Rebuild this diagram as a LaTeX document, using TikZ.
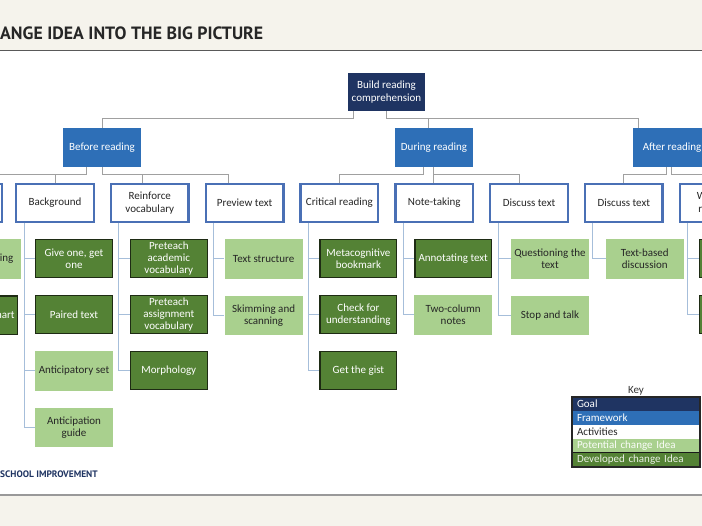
\documentclass[tikz,border=0pt]{standalone}
\usepackage{fontspec}
\setmainfont{Carlito}
\newfontfamily\headfont{PT Sans}
\usepackage{xcolor}
\usetikzlibrary{positioning}

\definecolor{goalblue}{HTML}{1F3462}
\definecolor{frameblue}{HTML}{2E6FB7}
\definecolor{actblue}{HTML}{4A70B5}
\definecolor{potgreen}{HTML}{A9D08E}
\definecolor{devgreen}{HTML}{548235}
\definecolor{devedge}{HTML}{1E2B14}
\definecolor{paper}{HTML}{F5F3EC}
\definecolor{busgray}{HTML}{A0A0A0}
\definecolor{leafline}{HTML}{A6BEDA}

\begin{document}
\begin{tikzpicture}[
  x=1pt, y=-1pt,
  node distance=16.5pt and 14.8pt,
  cell/.style={rectangle, align=center, inner sep=2pt, font=\fontsize{11}{12.3}\selectfont},
  goalbox/.style={cell, fill=goalblue, text=white, minimum width=77pt, minimum height=38pt},
  framebox/.style={cell, fill=frameblue, text=white, minimum width=78pt, minimum height=39pt},
  actbox/.style={cell, draw=actblue, line width=2.4pt, fill=white, text=black!85, minimum width=77.6pt, minimum height=37.6pt},
  potbox/.style={cell, fill=potgreen, text=black!85, minimum width=78pt, minimum height=39.5pt},
  devbox/.style={cell, fill=devgreen, draw=devedge, line width=1.3pt, text=white, minimum width=76.7pt, minimum height=38.2pt},
  bus/.style={busgray, line width=1pt},
  leaf/.style={leafline, line width=1pt},
  keyrow/.style={rectangle, outer sep=0pt, inner xsep=5pt, inner ysep=0pt, minimum height=14pt, text width=118pt, align=left, font=\fontsize{11}{12}\selectfont}
]
\useasboundingbox (0,0) rectangle (702,526);
\clip (0,0) rectangle (702,526);

% page bands
\fill[paper] (0,0) rectangle (702,51);
\draw[black!65, line width=1pt] (0,51) -- (702,51);
\fill[paper] (0,495) rectangle (702,526);
\draw[black!40, line width=1.5pt] (0,495) -- (702,495);

\node[anchor=base west, inner sep=0pt, font=\headfont\bfseries\fontsize{17.8}{20}\selectfont, text=black!85] (title) at (0,40) {ANGE IDEA INTO THE BIG PICTURE};
\node[anchor=base west, inner sep=0pt, font=\headfont\bfseries\fontsize{9.4}{10}\selectfont, text=goalblue] (brand) at (0,478) {SCHOOL IMPROVEMENT};

% goal and frameworks
\node[goalbox] (goal) at (386.5,92) {Build reading\\comprehension};
\node[framebox] (before) at (102,147.5) {Before reading};
\node[framebox] (during) at (434,147.5) {During reading};
\node[framebox] (after) at (672,147.5) {After reading};

% activities
\node[actbox] (backgr) at (55,203) {Background};
\node[actbox, left=12pt of backgr] (prior) {};
\node[actbox, right=of backgr] (vocab) {Reinforce\\vocabulary};
\node[actbox, right=of vocab] (preview) {Preview text};
\node[actbox, right=of preview] (critical) {Critical reading};
\node[actbox, right=of critical] (notes) {Note-taking};
\node[actbox, right=of notes] (discuss) {Discuss text};
\node[actbox, right=of discuss] (discussb) {Discuss text};
\node[actbox, right=of discussb] (respond) {Writing in\\response};

% change ideas
\node[potbox, below=16pt of prior, xshift=19pt] (prior1) {Brainstorming};
\node[devbox, below=of prior1, xshift=-3pt] (prior2) {Prediction chart};

\node[devbox, below=16pt of backgr, xshift=19pt] (backgr1) {Give one, get\\one};
\node[devbox, below=of backgr1] (backgr2) {Paired text};
\node[potbox, below=of backgr2] (backgr3) {Anticipatory set};
\node[potbox, below=of backgr3] (backgr4) {Anticipation\\guide};

\node[devbox, below=16pt of vocab, xshift=19pt] (vocab1) {Preteach\\academic\\vocabulary};
\node[devbox, below=of vocab1] (vocab2) {Preteach\\assignment\\vocabulary};
\node[devbox, below=of vocab2] (vocab3) {Morphology};

\node[potbox, below=16pt of preview, xshift=19pt] (preview1) {Text structure};
\node[potbox, below=of preview1] (preview2) {Skimming and\\scanning};

\node[devbox, below=16pt of critical, xshift=19pt] (critical1) {Metacognitive\\bookmark};
\node[devbox, below=of critical1] (critical2) {Check for\\understanding};
\node[devbox, below=of critical2] (critical3) {Get the gist};

\node[devbox, below=16pt of notes, xshift=19pt] (notes1) {Annotating text};
\node[potbox, below=of notes1] (notes2) {Two-column\\notes};

\node[potbox, below=16pt of discuss, xshift=21pt] (discuss1) {Questioning the\\text};
\node[potbox, below=of discuss1] (discuss2) {Stop and talk};

\node[potbox, below=16pt of discussb, xshift=21pt] (discussb1) {Text-based\\discussion};

\node[devbox, below=16pt of respond, xshift=19pt] (respond1) {};
\node[devbox, below=of respond1] (respond2) {};

% upper connectors
\draw[bus] ([xshift=6pt]goal.south west) -- ++(0,7) -| (before.north);
\draw[bus] (goal.south) -- ++(0,7) -| ([xshift=-6pt]during.north);
\draw[bus] (goal.south) -- ++(0,7) -| ([xshift=-34pt]after.north);
\draw[bus] ([xshift=-16pt]before.south) -- ++(0,7) -| (backgr.north);
\draw[bus] ([xshift=-16pt]before.south) -- ++(0,7) -| (prior.north);
\draw[bus] (before.south) -- ++(0,7) -| ([xshift=-7pt]vocab.north);
\draw[bus] (before.south) -- ++(0,7) -| ([xshift=-16pt]preview.north);
\draw[bus] ([xshift=-11pt]during.south) -- ++(0,7) -| (critical.north);
\draw[bus] ([xshift=-1pt]during.south) -- ++(0,7) -| ([xshift=-1pt]notes.north);
\draw[bus] ([xshift=-1pt]during.south) -- ++(0,7) -| ([xshift=-10pt]discuss.north);
\draw[bus] ([xshift=-6pt]after.south) -- ++(0,7) -| (discussb.north);
\draw[bus] ([xshift=-1pt]after.south) -- ++(0,7) -| ([xshift=12pt]respond.north);

% lower connectors
\foreach \act/\kids in {prior/{prior1,prior2}, backgr/{backgr1,backgr2,backgr3,backgr4},
    vocab/{vocab1,vocab2,vocab3}, preview/{preview1,preview2},
    critical/{critical1,critical2,critical3}, notes/{notes1,notes2},
    discuss/{discuss1,discuss2}, discussb/{discussb1}, respond/{respond1,respond2}}
  \foreach \kid in \kids
    \draw[leaf] ([xshift=9pt]\act.south west) |- (\kid.west);

% key
\node[keyrow, fill=goalblue, text=white] (kgoal) at (636,404) {Goal};
\node[keyrow, fill=frameblue, text=white, below=0pt of kgoal] (kframe) {Framework};
\node[keyrow, fill=white, text=black!85, below=0pt of kframe] (kact) {Activities};
\node[keyrow, fill=potgreen, text=white!94!potgreen, below=0pt of kact] (kpot) {Potential change Idea};
\node[keyrow, fill=devgreen, text=white!88!devgreen, draw=black!90, line width=1pt, below=0pt of kpot] (kdev) {Developed change Idea};
\draw[black!85, line width=1.2pt] (kgoal.north west) rectangle (kdev.south east);
\node[inner sep=1pt, font=\fontsize{11}{12}\selectfont, text=black!80, above=1pt of kgoal] (keytitle) {Key};

\end{tikzpicture}
\end{document}
